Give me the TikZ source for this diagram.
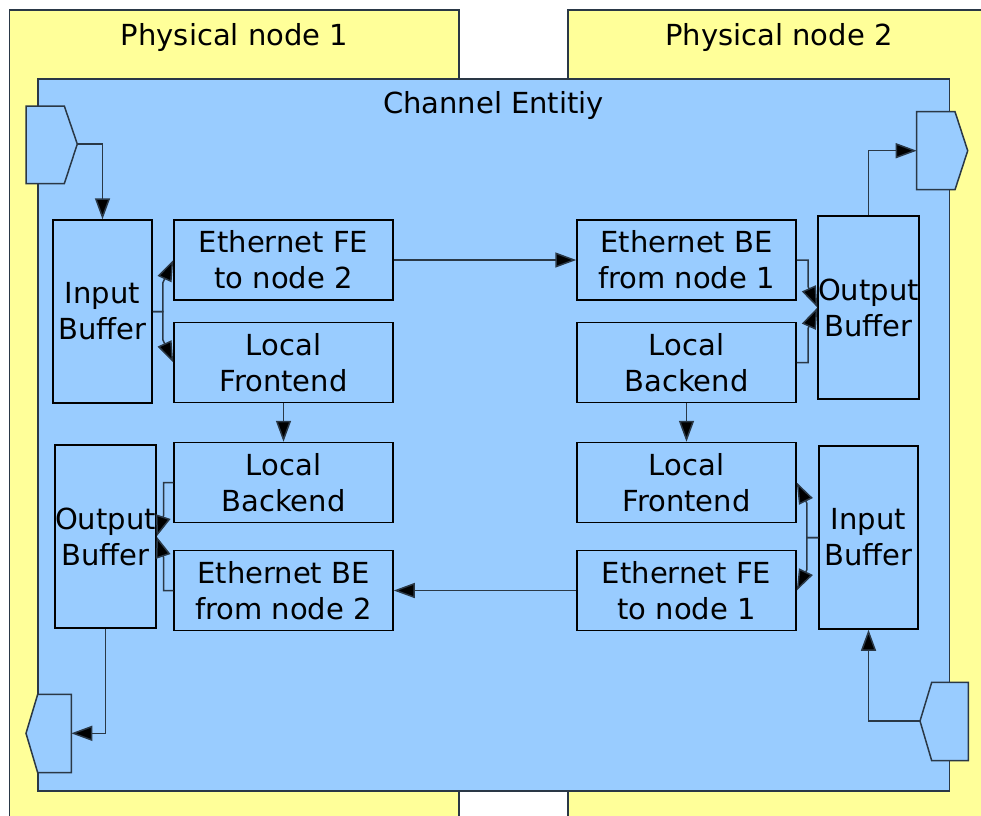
\documentclass[tikz,border=0pt]{standalone}
\usepackage{fontspec}
\setmainfont{DejaVu Sans}
\usetikzlibrary{arrows.meta,calc}
\definecolor{hostyellow}{HTML}{FFFF99}
\definecolor{chanblue}{HTML}{99CCFF}
\definecolor{edgeline}{HTML}{2A3846}
\begin{document}
\begin{tikzpicture}[x=1pt,y=-1pt,
  label/.style={font=\fontsize{29}{36}\selectfont, inner sep=0pt},
  box/.style={draw=black, line width=1.5pt, fill=chanblue, align=center,
    inner sep=0pt, font=\fontsize{29}{36}\selectfont},
  wide/.style={box, minimum width=219pt, minimum height=80pt},
  buffer/.style={box, minimum width=99pt, minimum height=183pt},
  area/.style={draw=edgeline, line width=1.5pt},
  port/.style={draw=edgeline, line width=1.5pt, fill=chanblue, line join=miter},
  conn/.style={draw=edgeline, line width=1.5pt,
    -{Triangle[length=21pt,width=15pt,fill=black]}}]
\useasboundingbox (0,0) rectangle (981,815);
\clip (0,0) rectangle (981,815);

% host areas and the channel entity
\draw[area, fill=hostyellow] (9.5,10) rectangle (459,840);
\draw[area, fill=hostyellow] (568,10) rectangle (1000,840);
\draw[area, fill=chanblue] (38,79) rectangle (949.5,791);
\node[label] (pn1) at (234.5,37) {Physical node 1};
\node[label] (pn2) at (779,37) {Physical node 2};
\node[label] (ce) at (493.5,105) {Channel Entitiy};

% ports
\draw[port] (26,106) -- (64.3,106) -- (77.3,144) -- (64.3,183.7) -- (26,183.7) -- cycle;
\coordinate (pin1) at (77.3,144);
\draw[port] (916.7,111.7) -- (955,111.7) -- (967.7,150.7) -- (955,189.7) -- (916.7,189.7) -- cycle;
\coordinate (pout2) at (916.7,150.7);
\draw[port] (37.7,694.3) -- (71.3,694.3) -- (71.3,772.7) -- (37.7,772.7) -- (26,733.3) -- cycle;
\coordinate (pout1) at (71.3,733.3);
\draw[port] (931.7,682.3) -- (968.3,682.3) -- (968.3,760.7) -- (931.7,760.7) -- (920,721) -- cycle;
\coordinate (pin2) at (920,721);

% node 1 side
\node[buffer] (ib1) at (102.5,311.5) {Input\\Buffer};
\node[wide] (fe2) at (283.5,260) {Ethernet FE\\to node 2};
\node[wide] (lf1) at (283.5,362.5) {Local\\Frontend};
\node[buffer] (ob1) at (105.5,536.5) {Output\\Buffer};
\node[wide] (lb1) at (283.5,482.5) {Local\\Backend};
\node[wide] (be2) at (283.5,590.5) {Ethernet BE\\from node 2};

% node 2 side
\node[wide] (be1) at (686.5,260) {Ethernet BE\\from node 1};
\node[wide] (lb2) at (686.5,362.5) {Local\\Backend};
\node[buffer] (ob2) at (868.5,307.5) {Output\\Buffer};
\node[wide] (lf2) at (686.5,482.5) {Local\\Frontend};
\node[buffer] (ib2) at (868.5,537.5) {Input\\Buffer};
\node[wide] (fe1) at (686.5,590.5) {Ethernet FE\\to node 1};

% port connections
\draw[conn] (pin1) -| (ib1.north);
\draw[conn] (ob2.north) |- (pout2);
\draw[conn] (ob1.south) |- (pout1);
\draw[conn] (pin2) -| (ib2.south);

% channel links and local paths
\draw[conn] (fe2.east) -- (be1.west);
\draw[conn] (fe1.west) -- (be2.east);
\draw[conn] (lf1.south) -- (lb1.north);
\draw[conn] (lb2.south) -- (lf2.north);

% input buffer 1 to its frontends
\coordinate (j1) at ($(ib1.east)+(10,0)$);
\draw[conn] (ib1.east) -- (j1) -- ($(j1|-fe2.west)+(0,23)$) -- (fe2.west);
\draw[conn] (ib1.east) -- (j1) -- ($(j1|-lf1.west)+(0,-23)$) -- (lf1.west);

% backends into output buffer 1
\coordinate (j2) at ($(lb1.west)+(-9.7,0)$);
\draw[conn] (lb1.west) -- (j2) -- ($(j2|-ob1.east)+(0,-21)$) -- (ob1.east);
\coordinate (j3) at ($(be2.west)+(-9.7,0)$);
\draw[conn] (be2.west) -- (j3) -- ($(j3|-ob1.east)+(0,21)$) -- (ob1.east);

% backends into output buffer 2
\coordinate (j4) at ($(be1.east)+(11.3,0)$);
\draw[conn] (be1.east) -- (j4) -- ($(j4|-ob2.west)+(0,-21)$) -- (ob2.west);
\coordinate (j5) at ($(lb2.east)+(11.3,0)$);
\draw[conn] (lb2.east) -- (j5) -- ($(j5|-ob2.west)+(0,21)$) -- (ob2.west);

% input buffer 2 to its frontends
\coordinate (j6) at ($(ib2.west)+(-11.3,0)$);
\draw[conn] (ib2.west) -- (j6) -- ($(j6|-lf2.east)+(0,21)$) -- (lf2.east);
\draw[conn] (ib2.west) -- (j6) -- ($(j6|-fe1.east)+(0,-21)$) -- (fe1.east);
\end{tikzpicture}
\end{document}
